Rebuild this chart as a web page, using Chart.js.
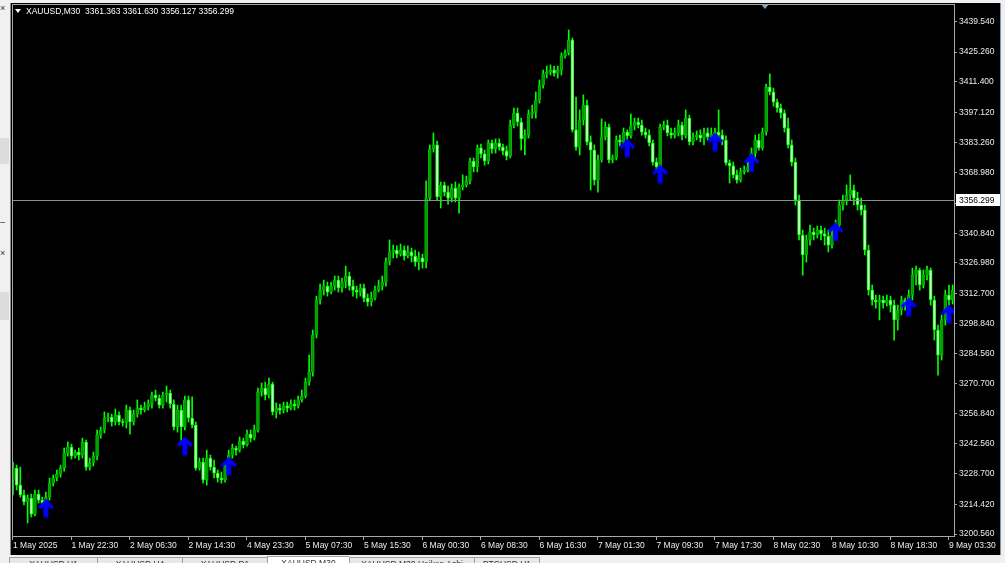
<!DOCTYPE html>
<html>
<head>
<meta charset="utf-8">
<title>XAUUSD,M30</title>
<script src="https://cdn.jsdelivr.net/npm/chart.js@4.4.1/dist/chart.umd.min.js"></script>
<style>
body{
    margin:0;
    width:1005px;
    height:563px;
    overflow:hidden;
    position:relative;
    background:#f0f0f0;
    font-family:"Liberation Sans", Arial, sans-serif;
}
#panel{
    position:absolute;
    left:10px;
    top:3px;
    width:990px;
    height:552px;
    background:#000;
    border-left:1px solid #8c8c8c;
}
#rightEdge{
    position:absolute;
    left:1000px;
    top:3px;
    width:1px;
    height:552px;
    background:#7d93ad;
}
#chart{
    position:absolute;
    left:0;
    top:0;
}
#title{
    position:absolute;
    left:15px;
    top:6px;
    color:#fff;
    font-size:8.5px;
    white-space:pre;
}
#title .tri{
    display:inline-block;
    width:0;
    height:0;
    border-left:3px solid transparent;
    border-right:3px solid transparent;
    border-top:4px solid #fff;
    margin-right:5px;
    vertical-align:1px;
}
#shift{
    position:absolute;
    left:761px;
    top:4px;
    width:0;
    height:0;
    border-left:4px solid transparent;
    border-right:4px solid transparent;
    border-top:5px solid #8fa3bb;
}
#tabs{
    position:absolute;
    left:0;
    top:556px;
    width:1005px;
    height:7px;
    overflow:hidden;
}
.tab{
    position:absolute;
    top:1px;
    height:12px;
    border-left:1px solid #a0a0a0;
    border-top:1px solid #a0a0a0;
    background:#e8e8e8;
    color:#333;
    font-size:8.5px;
    text-align:center;
    padding-top:1px;
    box-sizing:border-box;
}
.tab.active{
    background:#fff;
    top:0;
}
.side{
    position:absolute;
    left:0;
    width:9px;
    background:#dcdcdc;
}
.cross{
    position:absolute;
    left:0;
    font-size:9px;
    color:#333;
}
</style>
</head>
<body>

<div id="panel"></div>
<div id="rightEdge"></div>

<div class="side" style="top:138px;height:26px;"></div>
<div class="side" style="top:292px;height:28px;"></div>
<div class="cross" style="top:3px;">×</div>
<div class="cross" style="top:217px;">–</div>
<div class="cross" style="top:248px;">×</div>

<canvas id="chart" width="1005" height="563"></canvas>

<div id="title"><span class="tri"></span>XAUUSD,M30  3361.363 3361.630 3356.127 3356.299</div>
<div id="shift"></div>

<div id="tabs">
    <div class="tab" style="left:9px;width:88px;">XAUUSD,H1</div>
    <div class="tab" style="left:97px;width:85px;">XAUUSD,H4</div>
    <div class="tab" style="left:182px;width:85px;">XAUUSD,D1</div>
    <div class="tab active" style="left:267px;width:82px;">XAUUSD,M30</div>
    <div class="tab" style="left:349px;width:125px;">XAUUSD,M30,Heiken Ashi</div>
    <div class="tab" style="left:474px;width:66px;border-right:1px solid #a0a0a0;">BTCUSD,H1</div>
</div>

<script>
// ================= DATA =================
// XAUUSD M30 candles, 1 May 14:30 .. 9 May
let open = [
    3225.8, 3231.3, 3223.4, 3218.8, 3215.5, 3217.4, 3209.9, 3219.2, 3216.4, 3215.0,
    3217.8, 3224.3, 3226.7, 3228.5, 3231.3, 3238.3, 3241.1, 3236.9, 3238.8, 3237.4,
    3243.5, 3231.8, 3233.7, 3236.9, 3246.7, 3249.1, 3254.7, 3255.1, 3252.8, 3256.1,
    3252.8, 3252.6, 3258.4, 3252.8, 3256.5, 3259.3, 3258.4, 3259.8, 3261.2, 3265.4,
    3264.0, 3260.7, 3265.4, 3266.3, 3261.2, 3250.5, 3258.4, 3250.5, 3263.1, 3254.7,
    3251.4, 3231.3, 3234.1, 3225.8, 3236.0, 3231.8, 3229.0, 3226.7, 3225.8, 3232.3,
    3237.4, 3240.7, 3239.7, 3243.9, 3242.1, 3247.2, 3245.3, 3249.1, 3266.8, 3268.6,
    3265.4, 3270.5, 3257.5, 3259.3, 3258.4, 3260.3, 3259.3, 3261.2, 3260.3, 3263.1,
    3264.9, 3271.4, 3276.1, 3293.4, 3309.7, 3314.3, 3316.2, 3313.4, 3316.2, 3319.0,
    3315.3, 3318.1, 3320.9, 3316.2, 3314.3, 3313.4, 3315.3, 3310.6, 3308.8, 3310.6,
    3314.3, 3316.2, 3318.1, 3327.4, 3332.1, 3333.0, 3331.1, 3333.0, 3330.2, 3332.1,
    3330.2, 3327.4, 3329.3, 3327.4, 3357.2, 3380.1, 3382.0, 3357.7, 3363.3, 3360.0,
    3357.2, 3361.9, 3357.2, 3362.4, 3363.3, 3365.2, 3374.5, 3371.7, 3380.6, 3377.8,
    3374.5, 3382.9, 3380.1, 3382.9, 3381.0, 3379.2, 3376.8, 3391.3, 3396.9, 3392.7,
    3384.8, 3386.6, 3396.4, 3397.3, 3402.9, 3409.9, 3415.1, 3416.0, 3416.9, 3415.5,
    3416.9, 3423.5, 3424.9, 3430.9, 3389.0, 3381.0, 3393.6, 3400.6, 3383.4, 3379.6,
    3365.6, 3375.0, 3385.7, 3390.3, 3375.0, 3375.9, 3384.3, 3383.4, 3388.0, 3386.2,
    3390.8, 3392.7, 3391.3, 3388.0, 3386.6, 3382.9, 3374.0, 3371.7, 3390.3, 3391.3,
    3387.6, 3386.6, 3387.6, 3391.3, 3386.6, 3394.5, 3383.4, 3385.7, 3386.6, 3385.2,
    3387.6, 3385.7, 3387.1, 3388.0, 3386.6, 3384.3, 3373.6, 3372.2, 3368.0, 3365.6,
    3369.4, 3370.3, 3371.7, 3378.2, 3384.3, 3380.6, 3388.0, 3409.0, 3406.7, 3402.0,
    3399.2, 3396.9, 3389.9, 3382.0, 3374.0, 3356.3, 3340.0, 3330.7, 3337.7, 3341.4,
    3340.0, 3342.3, 3340.5, 3339.5, 3335.3, 3340.0, 3344.6, 3354.0, 3356.3, 3358.6,
    3361.0, 3357.2, 3354.0, 3351.6, 3333.0, 3314.3, 3309.7, 3308.8, 3309.7, 3308.3,
    3309.7, 3307.3, 3300.4, 3305.0, 3309.7, 3307.3, 3312.0, 3321.3, 3323.7, 3316.7,
    3321.3, 3323.7, 3309.7, 3295.7, 3284.0, 3300.4, 3312.0, 3309.7
];

let high = [
    3234.1, 3232.7, 3231.8, 3221.1, 3218.8, 3219.2, 3221.1, 3221.1, 3217.8, 3220.2,
    3226.7, 3228.1, 3230.4, 3232.7, 3240.7, 3243.5, 3242.5, 3239.7, 3240.7, 3245.3,
    3244.4, 3236.0, 3238.8, 3249.1, 3250.5, 3257.5, 3257.0, 3256.5, 3258.9, 3257.5,
    3254.2, 3260.7, 3259.8, 3258.4, 3263.1, 3260.7, 3262.1, 3263.1, 3266.8, 3267.7,
    3265.4, 3266.8, 3269.6, 3267.7, 3263.1, 3260.7, 3260.7, 3264.9, 3264.9, 3264.5,
    3252.8, 3236.0, 3236.0, 3239.7, 3237.4, 3235.1, 3230.4, 3229.5, 3234.1, 3239.7,
    3242.5, 3241.6, 3245.8, 3245.3, 3249.1, 3249.1, 3251.4, 3268.6, 3271.0, 3271.4,
    3273.3, 3271.4, 3261.7, 3261.2, 3262.1, 3262.1, 3263.1, 3263.1, 3264.9, 3267.7,
    3273.3, 3284.0, 3295.7, 3311.5, 3317.1, 3319.0, 3318.1, 3318.1, 3320.9, 3320.9,
    3319.9, 3325.5, 3322.7, 3319.0, 3316.2, 3317.1, 3317.1, 3312.5, 3313.4, 3316.2,
    3319.0, 3320.9, 3329.3, 3337.7, 3335.3, 3334.9, 3335.8, 3334.9, 3334.9, 3333.9,
    3333.0, 3332.1, 3331.1, 3365.2, 3382.0, 3387.6, 3383.8, 3364.7, 3364.7, 3362.8,
    3363.8, 3364.7, 3363.8, 3368.0, 3367.5, 3375.9, 3375.9, 3382.0, 3382.4, 3379.6,
    3384.3, 3384.3, 3384.8, 3384.8, 3382.4, 3381.5, 3393.6, 3399.2, 3399.2, 3394.5,
    3389.0, 3398.3, 3400.6, 3406.7, 3412.3, 3416.9, 3418.8, 3419.3, 3418.8, 3418.8,
    3424.9, 3426.3, 3435.6, 3431.8, 3404.3, 3398.3, 3405.3, 3402.9, 3386.2, 3382.0,
    3377.3, 3394.1, 3392.7, 3391.7, 3377.3, 3386.2, 3386.6, 3389.9, 3389.0, 3396.4,
    3394.5, 3394.5, 3393.6, 3389.9, 3389.0, 3384.3, 3375.9, 3391.7, 3393.1, 3393.6,
    3389.9, 3389.9, 3393.6, 3392.7, 3398.3, 3395.9, 3387.6, 3388.5, 3389.0, 3389.9,
    3389.9, 3389.9, 3389.9, 3398.3, 3389.0, 3386.2, 3375.0, 3374.0, 3370.3, 3371.2,
    3372.2, 3374.0, 3380.6, 3386.6, 3387.1, 3389.9, 3410.4, 3415.1, 3408.5, 3403.4,
    3401.1, 3398.3, 3394.5, 3384.3, 3375.9, 3358.6, 3342.3, 3340.0, 3344.6, 3343.2,
    3344.2, 3344.2, 3343.2, 3342.3, 3342.3, 3347.0, 3356.3, 3358.6, 3363.3, 3368.0,
    3363.3, 3360.0, 3357.2, 3354.0, 3335.3, 3316.7, 3312.0, 3312.0, 3311.5, 3312.0,
    3311.5, 3309.7, 3307.3, 3311.5, 3310.6, 3314.3, 3324.6, 3325.5, 3324.6, 3323.7,
    3325.5, 3324.6, 3311.5, 3298.0, 3302.7, 3314.3, 3316.7, 3316.7
];

let low = [
    3218.8, 3221.1, 3217.8, 3214.1, 3205.7, 3208.5, 3209.0, 3215.0, 3213.6, 3213.6,
    3216.4, 3223.0, 3225.3, 3227.1, 3229.9, 3236.9, 3235.5, 3236.0, 3235.1, 3236.0,
    3230.4, 3230.4, 3232.3, 3235.1, 3245.3, 3247.7, 3252.8, 3250.9, 3251.4, 3251.4,
    3250.9, 3250.0, 3247.2, 3251.4, 3255.1, 3256.5, 3257.5, 3258.4, 3259.3, 3262.6,
    3259.3, 3259.3, 3262.1, 3259.3, 3249.1, 3248.1, 3244.4, 3249.1, 3252.8, 3250.0,
    3230.4, 3230.4, 3224.3, 3223.4, 3230.4, 3226.7, 3224.8, 3224.3, 3224.8, 3231.3,
    3236.0, 3237.4, 3238.8, 3240.7, 3241.6, 3243.5, 3244.4, 3248.1, 3264.9, 3263.1,
    3264.0, 3256.1, 3254.7, 3256.5, 3257.0, 3257.5, 3258.4, 3258.4, 3259.3, 3262.1,
    3264.0, 3270.0, 3274.2, 3292.0, 3307.8, 3312.0, 3311.5, 3312.5, 3314.3, 3313.4,
    3313.4, 3315.3, 3314.3, 3311.5, 3310.6, 3311.5, 3308.8, 3306.9, 3306.9, 3309.7,
    3313.4, 3314.3, 3316.2, 3326.0, 3329.3, 3329.3, 3330.2, 3328.3, 3329.3, 3327.4,
    3325.5, 3323.7, 3324.6, 3324.6, 3356.3, 3378.7, 3356.3, 3352.6, 3358.2, 3354.4,
    3355.4, 3355.4, 3350.2, 3361.0, 3362.4, 3363.8, 3369.4, 3369.4, 3375.9, 3372.6,
    3373.1, 3378.2, 3378.2, 3379.6, 3377.3, 3375.0, 3375.9, 3389.9, 3390.8, 3379.6,
    3377.3, 3385.2, 3394.5, 3394.5, 3401.5, 3408.5, 3413.2, 3414.6, 3414.1, 3413.2,
    3414.6, 3422.5, 3423.9, 3388.0, 3379.6, 3377.3, 3391.3, 3382.0, 3361.0, 3363.3,
    3360.0, 3374.0, 3384.3, 3373.6, 3373.6, 3375.0, 3381.5, 3382.0, 3384.3, 3385.2,
    3389.0, 3389.9, 3386.6, 3385.2, 3381.5, 3372.6, 3370.3, 3370.3, 3389.0, 3386.2,
    3385.2, 3385.2, 3386.2, 3384.3, 3385.2, 3382.0, 3382.0, 3384.3, 3383.4, 3382.0,
    3384.3, 3384.3, 3385.7, 3385.2, 3382.0, 3372.6, 3364.2, 3366.6, 3364.2, 3364.7,
    3368.4, 3369.4, 3370.3, 3375.9, 3379.6, 3379.6, 3386.6, 3405.3, 3400.1, 3397.3,
    3394.5, 3388.0, 3380.6, 3372.2, 3354.0, 3337.7, 3321.3, 3327.4, 3335.3, 3337.7,
    3338.6, 3337.7, 3335.3, 3332.1, 3333.9, 3337.7, 3343.2, 3351.6, 3354.0, 3356.3,
    3354.0, 3351.6, 3349.3, 3330.7, 3312.0, 3307.3, 3305.9, 3300.4, 3305.9, 3306.9,
    3304.1, 3291.0, 3295.7, 3302.7, 3305.0, 3306.9, 3309.7, 3316.7, 3314.3, 3315.3,
    3319.0, 3307.3, 3291.0, 3274.7, 3281.7, 3298.0, 3307.3, 3307.8
];

let close = [
    3231.3, 3223.4, 3218.8, 3215.5, 3217.4, 3209.9, 3219.2, 3216.4, 3215.0, 3217.8,
    3224.3, 3226.7, 3228.5, 3231.3, 3238.3, 3241.1, 3236.9, 3238.8, 3237.4, 3243.5,
    3231.8, 3233.7, 3236.9, 3246.7, 3249.1, 3254.7, 3255.1, 3252.8, 3256.1, 3252.8,
    3252.6, 3258.4, 3252.8, 3256.5, 3259.3, 3258.4, 3259.8, 3261.2, 3265.4, 3264.0,
    3260.7, 3265.4, 3266.3, 3261.2, 3250.5, 3258.4, 3250.5, 3263.1, 3254.7, 3251.4,
    3231.3, 3234.1, 3225.8, 3236.0, 3231.8, 3229.0, 3226.7, 3225.8, 3232.3, 3237.4,
    3240.7, 3239.7, 3243.9, 3242.1, 3247.2, 3245.3, 3249.1, 3266.8, 3268.6, 3265.4,
    3270.5, 3257.5, 3259.3, 3258.4, 3260.3, 3259.3, 3261.2, 3260.3, 3263.1, 3264.9,
    3271.4, 3276.1, 3293.4, 3309.7, 3314.3, 3316.2, 3313.4, 3316.2, 3319.0, 3315.3,
    3318.1, 3320.9, 3316.2, 3314.3, 3313.4, 3315.3, 3310.6, 3308.8, 3310.6, 3314.3,
    3316.2, 3318.1, 3327.4, 3332.1, 3333.0, 3331.1, 3333.0, 3330.2, 3332.1, 3330.2,
    3327.4, 3329.3, 3327.4, 3357.2, 3380.1, 3382.0, 3357.7, 3363.3, 3360.0, 3357.2,
    3361.9, 3357.2, 3362.4, 3363.3, 3365.2, 3374.5, 3371.7, 3380.6, 3377.8, 3374.5,
    3382.9, 3380.1, 3382.9, 3381.0, 3379.2, 3376.8, 3391.3, 3396.9, 3392.7, 3384.8,
    3386.6, 3396.4, 3397.3, 3402.9, 3409.9, 3415.1, 3416.0, 3416.9, 3415.5, 3416.9,
    3423.5, 3424.9, 3430.9, 3389.0, 3381.0, 3393.6, 3400.6, 3383.4, 3379.6, 3365.6,
    3375.0, 3385.7, 3390.3, 3375.0, 3375.9, 3384.3, 3383.4, 3388.0, 3386.2, 3390.8,
    3392.7, 3391.3, 3388.0, 3386.6, 3382.9, 3374.0, 3371.7, 3390.3, 3391.3, 3387.6,
    3386.6, 3387.6, 3391.3, 3386.6, 3394.5, 3383.4, 3385.7, 3386.6, 3385.2, 3387.6,
    3385.7, 3387.1, 3388.0, 3386.6, 3384.3, 3373.6, 3372.2, 3368.0, 3365.6, 3369.4,
    3370.3, 3371.7, 3378.2, 3384.3, 3380.6, 3388.0, 3409.0, 3406.7, 3402.0, 3399.2,
    3396.9, 3389.9, 3382.0, 3374.0, 3356.3, 3340.0, 3330.7, 3337.7, 3341.4, 3340.0,
    3342.3, 3340.5, 3339.5, 3335.3, 3340.0, 3344.6, 3354.0, 3356.3, 3358.6, 3361.0,
    3357.2, 3354.0, 3351.6, 3333.0, 3314.3, 3309.7, 3308.8, 3309.7, 3308.3, 3309.7,
    3307.3, 3300.4, 3305.0, 3309.7, 3307.3, 3312.0, 3321.3, 3323.7, 3316.7, 3321.3,
    3323.7, 3309.7, 3295.7, 3284.0, 3300.4, 3312.0, 3309.7, 3314.3
];

// up arrows from the indicator (bar index, price where the arrow sits)
let arrowBars = [9, 47, 59, 168, 177, 192, 202, 225, 245, 256];
let arrowPrices = [3212.6, 3241.6, 3232.2, 3380.5, 3368.4, 3383.3, 3373.6, 3341.4, 3306.4, 3303.1];

// time axis
let xTickBars = [0, 16, 32, 48, 64, 80, 96, 112, 128, 144, 160, 176, 192, 208, 224, 240, 256];
let xLabels = [
    "1 May 2025", "1 May 22:30", "2 May 06:30", "2 May 14:30",
    "4 May 23:30", "5 May 07:30", "5 May 15:30", "6 May 00:30",
    "6 May 08:30", "6 May 16:30", "7 May 01:30", "7 May 09:30",
    "7 May 17:30", "8 May 02:30", "8 May 10:30", "8 May 18:30",
    "9 May 03:30"
];

// price axis
let yTicks = [
    3439.540, 3425.260, 3411.400, 3397.120, 3383.260, 3368.980, 3354.700,
    3340.840, 3326.980, 3312.700, 3298.840, 3284.560, 3270.700, 3256.840,
    3242.560, 3228.700, 3214.420, 3200.560
];
let bidPrice = 3356.299;

let xMin = -0.27, xMax = 257.38;
let yMin = 3199.2, yMax = 3447.7;

// ================= STYLE =================
const FONT = "'Liberation Sans', Arial, sans-serif";
const AXIS_TEXT = "#ececec";
const FRAME = "#a8a8a8";

// ================= BUILD DATASETS =================
let barIdx = open.map((o, i) => i);

let wickData = barIdx.map(i => ({ x: i, y: [low[i], high[i]] }));

// rising candles: solid green
let bullData = barIdx
    .filter(i => close[i] >= open[i])
    .map(i => ({ x: i, y: [open[i], close[i]] }));

// falling candles: pale body with lime edge
let bearData = barIdx
    .filter(i => close[i] < open[i])
    .map(i => ({ x: i, y: [close[i], open[i]] }));

let arrowData = arrowBars.map((b, k) => ({ x: b, y: arrowPrices[k] }));

// blue up arrow used as point style
function makeArrow(){

    let c = document.createElement("canvas");
    c.width = 17;
    c.height = 19;

    let g = c.getContext("2d");
    g.fillStyle = "#0000ff";
    g.beginPath();
    g.moveTo(8.5, 0);
    g.lineTo(16.5, 8);
    g.lineTo(14, 10.5);
    g.lineTo(11, 7.5);
    g.lineTo(11, 18.5);
    g.lineTo(6, 18.5);
    g.lineTo(6, 7.5);
    g.lineTo(3, 10.5);
    g.lineTo(0.5, 8);
    g.closePath();
    g.fill();

    return c;
}

// ================= PLUGINS =================
let framePlugin = {
    id: "frame",
    afterDatasetsDraw(chart){
        let ctx = chart.ctx;
        let a = chart.chartArea;
        let y = Math.round(chart.scales.y.getPixelForValue(bidPrice)) + 0.5;

        ctx.save();
        // bid line
        ctx.strokeStyle = "#8a8f96";
        ctx.lineWidth = 1;
        ctx.beginPath();
        ctx.moveTo(a.left, y);
        ctx.lineTo(a.right, y);
        ctx.stroke();

        // chart frame
        ctx.strokeStyle = FRAME;
        ctx.strokeRect(a.left + 0.5, a.top + 0.5, a.right - a.left, a.bottom - a.top - 1);
        ctx.restore();
    },
    afterDraw(chart){
        let ctx = chart.ctx;
        let a = chart.chartArea;
        let y = Math.round(chart.scales.y.getPixelForValue(bidPrice));

        // bid price box on the axis
        ctx.save();
        ctx.fillStyle = "#ffffff";
        ctx.fillRect(a.right + 2, y - 6, 44, 12);
        ctx.fillStyle = "#000000";
        ctx.font = "8.5px " + FONT;
        ctx.textBaseline = "middle";
        ctx.fillText(bidPrice.toFixed(3), a.right + 5, y + 0.5);
        ctx.restore();
    }
};

// ================= CHART =================
let ctx = document.getElementById("chart");

new Chart(ctx, {

    type: "bar",

    data: {
        datasets: [
            {
                type: "scatter",
                data: arrowData,
                pointStyle: makeArrow(),
                pointRadius: 9,
                order: 0
            },
            {
                data: bullData,
                backgroundColor: "#009a00",
                borderColor: "#00b800",
                borderWidth: 1,
                borderSkipped: false,
                barThickness: 3,
                minBarLength: 1,
                grouped: false,
                order: 1
            },
            {
                data: bearData,
                backgroundColor: "#d0ffd0",
                borderColor: "#00ff00",
                borderWidth: 1,
                borderSkipped: false,
                barThickness: 3,
                minBarLength: 1,
                grouped: false,
                order: 1
            },
            {
                data: wickData,
                backgroundColor: "#00ff00",
                borderWidth: 0,
                barThickness: 1,
                grouped: false,
                order: 2
            }
        ]
    },

    options: {
        responsive: false,
        animation: false,
        devicePixelRatio: 1,
        events: [],
        layout: {
            autoPadding: false,
            padding: { left: 12, top: 4, right: 5, bottom: 12 }
        },
        plugins: {
            legend: { display: false },
            tooltip: { enabled: false }
        },
        scales: {
            x: {
                type: "linear",
                min: xMin,
                max: xMax,
                offset: false,
                afterBuildTicks: s => { s.ticks = xTickBars.map(v => ({ value: v })); },
                afterFit: s => { s.height = 14; s.paddingLeft = 0; s.paddingRight = 0; },
                ticks: {
                    color: AXIS_TEXT,
                    font: { family: FONT, size: 8.5 },
                    align: "start",
                    maxRotation: 0,
                    autoSkip: false,
                    padding: 1,
                    callback: (v, i) => xLabels[i]
                },
                grid: {
                    drawOnChartArea: false,
                    offset: false,
                    tickLength: 3,
                    tickColor: FRAME
                },
                border: { display: false }
            },
            y: {
                position: "right",
                min: yMin,
                max: yMax,
                afterBuildTicks: s => { s.ticks = yTicks.map(v => ({ value: v })); },
                afterFit: s => { s.width = 46; s.paddingTop = 0; s.paddingBottom = 0; },
                ticks: {
                    color: AXIS_TEXT,
                    font: { family: FONT, size: 8.5 },
                    autoSkip: false,
                    padding: 2,
                    callback: v => v.toFixed(3)
                },
                grid: {
                    drawOnChartArea: false,
                    tickLength: 3,
                    tickColor: FRAME
                },
                border: { display: false }
            }
        }
    },

    plugins: [framePlugin]

});
</script>
</body>
</html>
